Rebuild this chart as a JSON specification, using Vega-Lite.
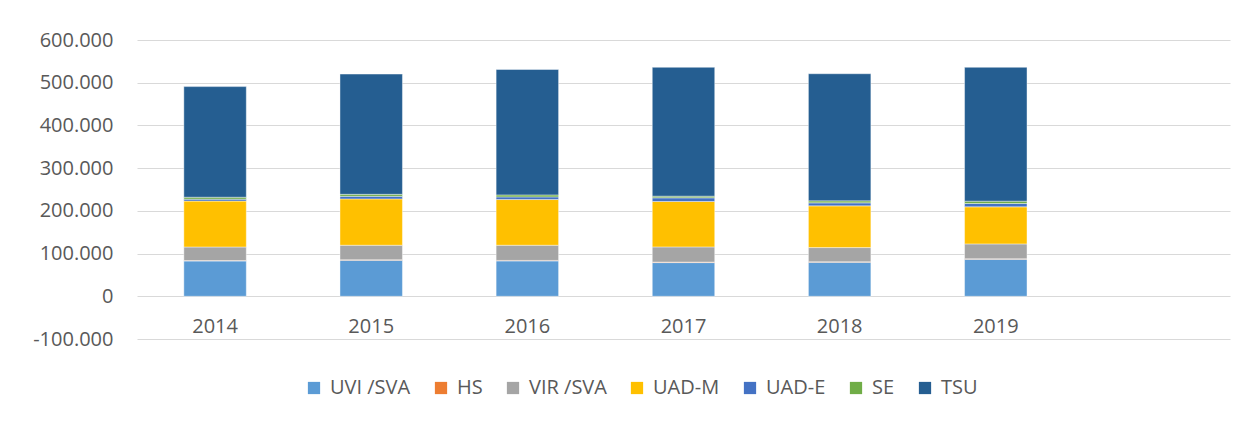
{
  "$schema": "https://vega.github.io/schema/vega-lite/v6.json",
  "width": 1093,
  "height": 299,
  "autosize": {"type": "none"},
  "padding": {"left": 137, "top": 40, "right": 16, "bottom": 82},
  "background": "#ffffff",
  "config": {
    "locale": {"number": {"decimal": ",", "thousands": ".", "grouping": [3], "currency": ["", " €"], "minus": "-"}},
    "view": {"stroke": null},
    "font": "Open Sans"
  },
  "data": {
    "values": [
      {"year": "2014", "series": "UVI /SVA", "value": 82600},
      {"year": "2014", "series": "HS", "value": 1200},
      {"year": "2014", "series": "VIR /SVA", "value": 31600},
      {"year": "2014", "series": "UAD-M", "value": 107500},
      {"year": "2014", "series": "UAD-E", "value": 4500},
      {"year": "2014", "series": "SE", "value": 4500},
      {"year": "2014", "series": "TSU", "value": 259000},
      {"year": "2015", "series": "UVI /SVA", "value": 84400},
      {"year": "2015", "series": "HS", "value": 1200},
      {"year": "2015", "series": "VIR /SVA", "value": 33900},
      {"year": "2015", "series": "UAD-M", "value": 108500},
      {"year": "2015", "series": "UAD-E", "value": 6000},
      {"year": "2015", "series": "SE", "value": 4700},
      {"year": "2015", "series": "TSU", "value": 281500},
      {"year": "2016", "series": "UVI /SVA", "value": 82800},
      {"year": "2016", "series": "HS", "value": 1200},
      {"year": "2016", "series": "VIR /SVA", "value": 35500},
      {"year": "2016", "series": "UAD-M", "value": 107000},
      {"year": "2016", "series": "UAD-E", "value": 6200},
      {"year": "2016", "series": "SE", "value": 4700},
      {"year": "2016", "series": "TSU", "value": 293500},
      {"year": "2017", "series": "UVI /SVA", "value": 78900},
      {"year": "2017", "series": "HS", "value": 1200},
      {"year": "2017", "series": "VIR /SVA", "value": 35500},
      {"year": "2017", "series": "UAD-M", "value": 106300},
      {"year": "2017", "series": "UAD-E", "value": 8600},
      {"year": "2017", "series": "SE", "value": 3900},
      {"year": "2017", "series": "TSU", "value": 301600},
      {"year": "2018", "series": "UVI /SVA", "value": 79700},
      {"year": "2018", "series": "HS", "value": 1200},
      {"year": "2018", "series": "VIR /SVA", "value": 33100},
      {"year": "2018", "series": "UAD-M", "value": 97700},
      {"year": "2018", "series": "UAD-E", "value": 7000},
      {"year": "2018", "series": "SE", "value": 4700},
      {"year": "2018", "series": "TSU", "value": 297600},
      {"year": "2019", "series": "UVI /SVA", "value": 86700},
      {"year": "2019", "series": "HS", "value": 1200},
      {"year": "2019", "series": "VIR /SVA", "value": 34800},
      {"year": "2019", "series": "UAD-M", "value": 86700},
      {"year": "2019", "series": "UAD-E", "value": 7800},
      {"year": "2019", "series": "SE", "value": 5500},
      {"year": "2019", "series": "TSU", "value": 313300}
    ]
  },
  "transform": [
    {"calculate": "indexof(['UVI /SVA','HS','VIR /SVA','UAD-M','UAD-E','SE','TSU'], datum.series)", "as": "ord"}
  ],
  "mark": {"type": "bar", "stroke": "#ffffff", "strokeWidth": 0.6, "strokeOpacity": 0.7},
  "encoding": {
    "x": {
      "field": "year",
      "type": "nominal",
      "scale": {"domain": ["2014", "2015", "2016", "2017", "2018", "2019", " "], "paddingInner": 0.6, "paddingOuter": 0.3},
      "axis": {
        "title": null,
        "offset": -43,
        "domain": false,
        "ticks": false,
        "labelAngle": 0,
        "labelFontSize": 20,
        "labelColor": "#595959",
        "labelPadding": 30,
        "labelBaseline": "middle"
      }
    },
    "y": {
      "field": "value",
      "type": "quantitative",
      "stack": "zero",
      "scale": {"domain": [-100000, 600000], "nice": false},
      "axis": {
        "title": null,
        "values": [-100000, 0, 100000, 200000, 300000, 400000, 500000, 600000],
        "format": ",d",
        "domain": false,
        "ticks": false,
        "grid": true,
        "gridColor": "#d9d9d9",
        "gridWidth": 1.2,
        "labelFontSize": 20,
        "labelColor": "#595959",
        "labelPadding": 24
      }
    },
    "color": {
      "field": "series",
      "type": "nominal",
      "scale": {
        "domain": ["UVI /SVA", "HS", "VIR /SVA", "UAD-M", "UAD-E", "SE", "TSU"],
        "range": ["#5B9BD5", "#ED7D31", "#A5A5A5", "#FFC000", "#4472C4", "#70AD47", "#255E91"]
      },
      "legend": {
        "title": null,
        "orient": "none",
        "direction": "horizontal",
        "columns": 7,
        "legendX": 167,
        "legendY": 338,
        "symbolType": "square",
        "symbolSize": 150,
        "symbolStrokeWidth": 0,
        "labelFontSize": 20,
        "labelColor": "#595959",
        "labelOffset": 6,
        "columnPadding": 20
      }
    },
    "order": {"field": "ord", "type": "quantitative", "sort": "ascending"}
  }
}
